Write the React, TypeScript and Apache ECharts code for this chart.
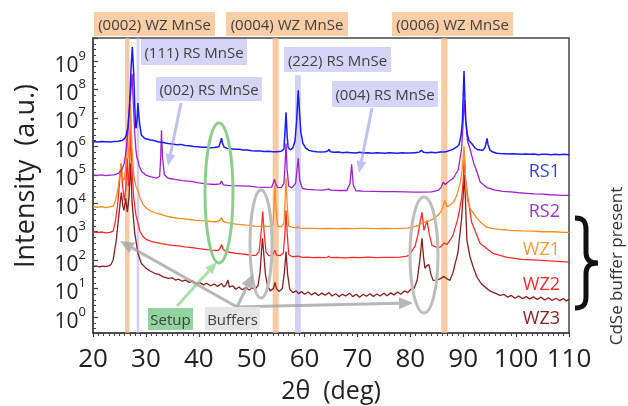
import React, { useEffect, useRef } from 'react';
import * as echarts from 'echarts';

const FONT = '"Open Sans", "Noto Sans", "DejaVu Sans", sans-serif';

// Each point: [2θ in degrees, log10 of intensity in a.u.]
const rs1: [number, number][] = [
  [20, 6.17], [20.8, 6.15], [21.6, 6.17], [22.4, 6.16], [23.2, 6.15], [24, 6.17], [24.8, 6.18], [25.5, 6.21],
  [26.0, 6.28], [26.3, 6.4], [26.6, 6.67], [26.9, 7.38], [27.2, 8.78], [27.43, 9.49], [27.7, 8.57], [27.9, 7.38],
  [28.07, 6.67], [28.19, 6.65], [28.35, 7.0], [28.5, 7.52], [28.65, 7.1], [28.83, 6.8], [29.13, 6.4], [29.8, 6.28],
  [30.7, 6.23], [31.7, 6.2], [32.4, 6.15], [33.2, 6.14], [34.2, 6.1], [35, 6.08], [35.8, 6.06], [36.6, 6.07],
  [37.4, 6.03], [38.2, 6.02], [39, 6.0], [39.8, 5.99], [40.6, 5.97], [41.4, 5.97], [42.2, 5.95], [43, 5.96],
  [43.8, 5.99], [44.1, 6.15], [44.3, 6.29], [44.5, 6.1], [44.8, 5.97], [45.4, 5.93], [46, 5.92], [46.8, 5.9],
  [47.6, 5.9], [48.4, 5.87], [49.2, 5.87], [50, 5.85], [50.8, 5.84], [51.6, 5.84], [52.4, 5.82], [53.2, 5.83],
  [54, 5.81], [54.8, 5.81], [55.6, 5.83], [56.1, 5.9], [56.3, 6.5], [56.5, 7.2], [56.7, 6.4], [56.9, 5.95],
  [57.3, 5.88], [57.8, 5.95], [58.2, 6.2], [58.5, 6.9], [58.8, 7.97], [59.05, 7.2], [59.3, 6.5], [59.7, 6.1],
  [60.2, 5.95], [60.8, 5.86], [61.5, 5.83], [62.3, 5.81], [63.1, 5.8], [63.9, 5.81], [64.4, 5.84], [64.6, 5.89],
  [64.9, 5.81], [65.6, 5.79], [66.4, 5.8], [67.2, 5.78], [68, 5.79], [68.8, 5.78], [69.6, 5.77], [70.4, 5.79],
  [71.2, 5.77], [72, 5.78], [72.8, 5.76], [73.6, 5.78], [74.4, 5.77], [75.2, 5.76], [76, 5.78], [76.8, 5.77],
  [77.6, 5.76], [78.4, 5.78], [79.2, 5.77], [80, 5.77], [80.8, 5.78], [81.6, 5.79], [82.1, 5.86], [82.5, 5.79],
  [83.2, 5.78], [84, 5.79], [84.8, 5.78], [85.6, 5.8], [86.3, 5.8], [86.9, 5.82], [87.5, 5.86], [88.1, 5.9],
  [88.7, 5.97], [89.2, 6.05], [89.6, 6.4], [89.85, 6.9], [90.0, 7.8], [90.15, 8.65], [90.3, 7.8], [90.5, 6.9],
  [90.8, 6.4], [91.1, 6.2], [91.6, 6.1], [92.2, 5.95], [92.8, 5.88], [93.7, 5.86], [94.1, 5.95], [94.3, 6.1],
  [94.5, 6.28], [94.7, 6.05], [95.06, 5.87], [95.6, 5.8], [96.3, 5.76], [96.95, 5.75], [97.8, 5.74], [98.6, 5.73],
  [99.4, 5.74], [100.2, 5.73], [101, 5.72], [101.8, 5.73], [102.6, 5.72], [103.4, 5.73], [104.2, 5.71], [105, 5.72],
  [105.8, 5.72], [106.6, 5.71], [107.4, 5.72], [108.2, 5.71], [109, 5.72], [110, 5.71],
];

const rs2: [number, number][] = [
  [20, 5.0], [20.8, 4.98], [21.6, 5.0], [22.4, 4.97], [23.2, 4.99], [24, 5.0], [24.8, 5.05], [25.4, 5.16],
  [25.9, 5.4], [26.3, 5.9], [26.6, 6.5], [26.9, 7.45], [27.15, 7.9], [27.4, 8.55], [27.6, 7.6], [27.85, 6.6],
  [28.1, 5.9], [28.3, 5.6], [28.5, 5.5], [28.75, 5.3], [29.2, 5.12], [30.1, 4.98], [31, 4.93], [32, 4.88],
  [32.6, 4.95], [32.8, 5.6], [32.95, 6.57], [33.15, 5.6], [33.5, 5.0], [34.2, 4.88], [35.5, 4.84], [37, 4.8],
  [38.5, 4.77], [40, 4.72], [41.5, 4.68], [43, 4.66], [44.0, 4.68], [44.3, 4.78], [44.6, 4.65], [45.5, 4.63],
  [46.5, 4.62], [48, 4.61], [49.5, 4.6], [51, 4.57], [52.5, 4.56], [53.8, 4.57], [54.1, 4.72], [54.3, 4.85],
  [54.5, 4.7], [54.9, 4.56], [55.6, 4.55], [56.1, 4.7], [56.3, 5.3], [56.5, 6.1], [56.7, 5.2], [57.0, 4.6],
  [57.6, 4.54], [58.3, 4.7], [58.8, 5.58], [59.1, 4.8], [59.6, 4.52], [60.5, 4.49], [62, 4.47], [63.5, 4.46],
  [64.6, 4.5], [65, 4.46], [66.5, 4.45], [68, 4.45], [68.6, 4.7], [68.9, 5.37], [69.2, 4.65], [69.7, 4.44],
  [71, 4.43], [73, 4.42], [75, 4.41], [77, 4.41], [79, 4.4], [81, 4.39], [82.5, 4.39], [84, 4.4],
  [85.2, 4.45], [85.8, 4.55], [86.2, 4.74], [86.6, 4.66], [87.2, 4.76], [88.1, 4.88], [89.05, 5.17], [89.7, 5.93],
  [90.0, 6.9], [90.2, 7.64], [90.45, 6.9], [90.8, 6.2], [91.3, 5.9], [92.0, 5.4], [92.6, 5.1], [93.2, 4.75],
  [94.5, 4.55], [96, 4.46], [97.5, 4.42], [99, 4.4], [100.5, 4.37], [102, 4.35], [103.5, 4.33], [105, 4.32],
  [106.5, 4.3], [108, 4.29], [109, 4.28], [110, 4.28],
];

const wz1: [number, number][] = [
  [20, 3.88], [20.8, 3.86], [21.6, 3.88], [22.4, 3.85], [23.2, 3.87], [23.8, 3.9], [24.3, 4.1], [24.8, 4.6],
  [25.05, 5.0], [25.3, 5.4], [25.6, 4.9], [25.9, 4.8], [26.2, 5.3], [26.45, 6.6], [26.7, 5.6], [26.9, 6.0],
  [27.1, 7.5], [27.35, 6.0], [27.7, 5.0], [28.1, 4.6], [28.5, 4.45], [28.9, 4.18], [29.5, 3.95], [30.15, 3.82],
  [31, 3.72], [32, 3.65], [33, 3.6], [34, 3.54], [35.1, 3.5], [36.2, 3.47], [37.3, 3.45], [38.3, 3.43],
  [39.4, 3.4], [40.4, 3.39], [41.5, 3.38], [42.5, 3.36], [43.5, 3.35], [44.0, 3.4], [44.3, 3.5], [44.6, 3.36],
  [45.2, 3.32], [46, 3.3], [47, 3.27], [48, 3.25], [49, 3.23], [49.7, 3.22], [50.5, 3.2], [51.5, 3.19],
  [52.3, 3.2], [53.2, 3.18], [54.0, 3.25], [54.2, 3.8], [54.4, 4.63], [54.6, 3.8], [54.9, 3.2], [55.6, 3.17],
  [56.1, 3.3], [56.3, 4.0], [56.5, 4.9], [56.7, 4.0], [57.0, 3.2], [57.7, 3.15], [58.5, 3.14], [58.8, 3.18],
  [59.1, 3.13], [60, 3.12], [61.5, 3.12], [63, 3.11], [64.5, 3.12], [66, 3.11], [67.5, 3.12], [69, 3.11],
  [70.5, 3.12], [72, 3.12], [73.5, 3.11], [75, 3.12], [76.5, 3.11], [78, 3.12], [79.5, 3.13], [80.5, 3.16],
  [81.5, 3.22], [82.4, 3.33], [83.3, 3.36], [84.3, 3.45], [85.2, 3.58], [85.8, 3.7], [86.2, 3.9], [86.55, 4.1],
  [86.9, 3.88], [87.4, 3.92], [88.2, 4.05], [88.8, 4.28], [89.4, 4.7], [89.8, 5.2], [90.15, 6.0], [90.45, 4.8],
  [90.8, 4.1], [91.3, 3.82], [92.6, 3.47], [93.5, 3.3], [94.5, 3.15], [96, 3.1], [98.8, 3.05], [101, 3.03],
  [103, 3.02], [105, 3.0], [107, 3.0], [109, 2.98], [110, 2.98],
];

const wz2: [number, number][] = [
  [20, 2.99], [20.8, 2.97], [21.6, 2.99], [22.4, 2.96], [23.2, 2.98], [23.8, 3.02], [24.2, 3.33], [24.7, 4.0],
  [25.0, 4.7], [25.3, 5.4], [25.6, 4.6], [25.9, 4.1], [26.2, 4.5], [26.45, 5.6], [26.7, 4.6], [26.9, 5.2],
  [27.1, 6.6], [27.35, 5.3], [27.7, 4.2], [28.1, 3.6], [28.5, 3.3], [28.9, 3.0], [29.5, 2.82], [30.15, 2.72],
  [31, 2.66], [32, 2.62], [33, 2.58], [34, 2.55], [35.1, 2.52], [36.2, 2.5], [37.3, 2.47], [38.3, 2.45],
  [39.4, 2.42], [40.4, 2.4], [41.5, 2.37], [42.5, 2.35], [43.6, 2.34], [44.0, 2.4], [44.3, 2.55], [44.6, 2.38],
  [45.2, 2.3], [46, 2.27], [47, 2.24], [48, 2.22], [49, 2.2], [50, 2.17], [50.8, 2.17], [51.4, 2.3],
  [51.8, 3.0], [52.09, 3.71], [52.35, 3.0], [52.7, 2.3], [53.2, 2.16], [54.0, 2.18], [54.4, 2.35], [54.7, 2.18],
  [55.4, 2.16], [56.0, 2.25], [56.3, 3.0], [56.5, 3.75], [56.7, 3.0], [57.0, 2.2], [57.7, 2.12], [58.8, 2.14],
  [59.6, 2.1], [60.5, 2.11], [61.5, 2.09], [62.5, 2.1], [63.5, 2.09], [64.3, 2.1], [64.6, 2.14], [64.9, 2.09],
  [66, 2.1], [67.5, 2.08], [69, 2.1], [70.5, 2.09], [72, 2.11], [73.5, 2.09], [75, 2.1], [76.5, 2.1],
  [78, 2.11], [79.2, 2.13], [79.9, 2.2], [80.9, 2.5], [81.45, 2.9], [81.9, 3.4], [82.2, 3.68], [82.58, 3.05],
  [83.15, 3.4], [83.6, 2.9], [84.1, 2.52], [85, 2.45], [85.6, 2.45], [86.36, 2.6], [86.9, 2.55], [87.5, 2.7],
  [88.07, 2.87], [89.0, 3.47], [89.7, 4.17], [90.0, 4.8], [90.2, 5.6], [90.45, 4.8], [90.9, 4.17], [91.6, 3.33],
  [93.2, 2.59], [95.6, 2.24], [98.3, 2.1], [101, 2.03], [104, 2.0], [107, 1.97], [110, 1.93],
];

const wz3: [number, number][] = [
  [20, 1.78], [20.6, 1.8], [21.2, 1.76], [21.8, 1.79], [22.4, 1.77], [23, 1.8], [23.4, 1.85], [23.8, 2.0],
  [24.4, 2.7], [24.9, 3.6], [25.35, 4.38], [25.65, 3.9], [25.86, 3.75], [26.18, 4.17], [26.5, 3.7], [26.8, 4.2],
  [27.1, 5.4], [27.4, 4.0], [27.9, 2.94], [28.5, 2.24], [29.13, 1.89], [30, 1.72], [30.8, 1.62], [31.67, 1.54],
  [32.4, 1.5], [33.2, 1.42], [34.2, 1.36], [35, 1.38], [35.6, 1.3], [36.2, 1.33], [36.9, 1.26], [37.5, 1.3],
  [38.2, 1.22], [38.8, 1.27], [39.5, 1.18], [40.2, 1.21], [40.9, 1.13], [41.5, 1.19], [42.2, 1.1], [42.9, 1.16],
  [43.5, 1.08], [44.3, 1.18], [44.7, 1.06], [45.1, 1.12], [45.5, 1.3], [45.8, 1.05], [46.4, 1.1], [47.0, 0.98],
  [47.6, 1.06], [48.2, 0.96], [48.9, 1.04], [49.5, 0.95], [50.1, 1.02], [50.7, 0.99], [51.2, 1.1], [51.6, 1.6],
  [51.85, 2.3], [52.05, 2.77], [52.3, 2.2], [52.6, 1.5], [53.0, 1.1], [53.5, 0.92], [54.1, 1.0], [54.4, 1.22],
  [54.7, 1.0], [55.2, 0.9], [55.8, 1.0], [56.2, 1.6], [56.5, 2.3], [56.8, 1.5], [57.2, 0.98], [57.8, 0.86],
  [58.4, 0.92], [58.9, 0.82], [59.4, 0.9], [60, 0.8], [60.7, 0.88], [61.3, 0.78], [62, 0.86], [62.6, 0.76],
  [63.3, 0.84], [63.9, 0.77], [64.6, 0.86], [65.2, 0.74], [65.9, 0.82], [66.5, 0.72], [67.2, 0.8], [67.8, 0.74],
  [68.5, 0.84], [69.1, 0.72], [69.8, 0.8], [70.4, 0.7], [71.1, 0.8], [71.7, 0.73], [72.4, 0.82], [73, 0.72],
  [73.7, 0.81], [74.3, 0.74], [75, 0.84], [75.6, 0.75], [76.3, 0.85], [76.9, 0.78], [77.6, 0.88], [78.2, 0.8],
  [78.9, 0.92], [79.5, 0.86], [80.1, 0.98], [80.7, 1.0], [81.3, 1.3], [81.8, 2.0], [82.2, 2.77], [82.5, 2.1],
  [82.77, 1.71], [83.1, 1.8], [83.5, 1.85], [83.9, 1.5], [84.3, 1.29], [85, 1.3], [85.7, 1.35], [86.36, 1.43],
  [86.9, 1.35], [87.5, 1.29], [88.07, 1.57], [89.0, 2.27], [89.7, 3.47], [90.0, 4.3], [90.2, 5.0], [90.4, 4.2],
  [90.7, 2.7], [91.3, 2.1], [92.0, 1.7], [92.6, 1.4], [93.5, 1.15], [94.5, 1.0], [95.2, 0.9], [96, 0.84],
  [96.95, 0.76], [97.7, 0.8], [98.4, 0.7], [99.1, 0.76], [99.8, 0.66], [100.5, 0.74], [101.2, 0.65], [101.9, 0.72],
  [102.6, 0.64], [103.3, 0.71], [104, 0.62], [104.7, 0.7], [105.4, 0.6], [106.1, 0.68], [106.8, 0.58], [107.5, 0.66],
  [108.2, 0.58], [108.9, 0.65], [109.5, 0.57], [110, 0.62],
];

const seriesNames = ['WZ3', 'WZ2', 'WZ1', 'RS2', 'RS1'];
const seriesData = [wz3, wz2, wz1, rs2, rs1];
const seriesColors = ['#8b1e1e', '#ff2b2b', '#ff8a1f', '#a21fd0', '#1a1aff'];

// reference bands (2θ ranges)
const wzBands: [number, number][] = [[26.05, 26.9], [53.97, 55.1], [85.85, 87.0]];
const rsBands: [number, number][] = [[28.25, 28.75], [58.2, 59.3]];
const rsBandTop = [null, 8.5];

const X_MIN = 20;
const X_MAX = 110;
const X_STEP = 10;
const Y_MIN_EXP = -0.56;
const Y_MAX_EXP = 9.81;

const braceD = 'M0,2 C8,2 11,5 11,14 L11,36 C11,44 15,47 23,47 C15,47 11,50 11,58 L11,80 C11,89 8,92 0,92';
echarts.graphic.registerShape('brace', echarts.graphic.extendPath(braceD, {}) as any);

const ORANGE_BOX = '#f9cda6';
const BLUE_BOX = '#d5d5f7';
const LABEL_TXT = '#404040';

function boxWithText(x: number, y: number, w: number, h: number, fill: string, text: string) {
  return [
    { type: 'rect', z: 100, shape: { x, y, width: w, height: h }, style: { fill } },
    {
      type: 'text', z: 101, x: x + w / 2, y: y + h / 2,
      style: {
        text, fill: LABEL_TXT, font: `15px ${FONT}`,
        align: 'center', verticalAlign: 'middle', textAlign: 'center', textVerticalAlign: 'middle',
      },
    },
  ];
}

function arrow(x1: number, y1: number, bx: number, by: number, head: number[][], color: string, width: number) {
  return [
    { type: 'line', z: 99, shape: { x1, y1, x2: bx, y2: by }, style: { stroke: color, lineWidth: width } },
    { type: 'polygon', z: 99, shape: { points: head }, style: { fill: color } },
  ];
}

function label(text: string, x: number, y: number, color: string, size: number, rotation = 0, align = 'right') {
  return {
    type: 'text', z: 101, x, y, rotation,
    style: {
      text, fill: color, font: `${size}px ${FONT}`,
      align, verticalAlign: 'middle', textAlign: align, textVerticalAlign: 'middle',
    },
  };
}

export default function App() {
  const ref = useRef<HTMLDivElement>(null);
  useEffect(() => {
    if (!ref.current) return;
    const chart = echarts.init(ref.current, undefined, { renderer: 'svg' });

    const lineSeries = seriesData.map((d, i) => ({
      type: 'line',
      name: seriesNames[i],
      data: d,
      showSymbol: false,
      symbol: 'none',
      smooth: false,
      z: 2 + i,
      lineStyle: { color: seriesColors[i], width: i === 4 ? 1.5 : 1.3 },
      emphasis: { disabled: true },
    }));

    const bandSeries = {
      type: 'line',
      data: [],
      silent: true,
      z: 20,
      markArea: {
        silent: true,
        data: [
          ...wzBands.map(([a, b]) => [
            { xAxis: a, itemStyle: { color: 'rgba(246,180,125,0.72)' } },
            { xAxis: b },
          ]),
          ...rsBands.map(([a, b], i) => [
            rsBandTop[i] == null
              ? { xAxis: a, itemStyle: { color: 'rgba(190,190,246,0.7)' } }
              : { xAxis: a, yAxis: rsBandTop[i], itemStyle: { color: 'rgba(190,190,246,0.7)' } },
            rsBandTop[i] == null ? { xAxis: b } : { xAxis: b, yAxis: Y_MIN_EXP },
          ]),
        ],
      },
    };

    const graphics: any[] = [
      ...boxWithText(94, 12, 121, 24, ORANGE_BOX, '(0002) WZ MnSe'),
      ...boxWithText(226, 12, 122, 24, ORANGE_BOX, '(0004) WZ MnSe'),
      ...boxWithText(392, 12, 121, 24, ORANGE_BOX, '(0006) WZ MnSe'),
      ...boxWithText(141, 39, 106, 26, BLUE_BOX, '(111) RS MnSe'),
      ...boxWithText(156, 77, 106, 24, BLUE_BOX, '(002) RS MnSe'),
      ...boxWithText(284, 47, 107, 25, BLUE_BOX, '(222) RS MnSe'),
      ...boxWithText(332, 81, 106, 26, BLUE_BOX, '(004) RS MnSe'),
      ...boxWithText(148, 308, 45, 22, '#93d3a0', 'Setup'),
      ...boxWithText(205, 307, 55, 23, '#e6e6e6', 'Buffers'),
      // blue arrows
      ...arrow(181, 103, 170.4, 154.2, [[168, 166], [175.3, 155.2], [165.5, 153.2]], 'rgba(150,150,235,0.6)', 3),
      ...arrow(372, 108, 361.4, 161.2, [[359, 173], [366.25, 162.2], [356.45, 160.3]], 'rgba(150,150,235,0.6)', 3),
      // green arrow
      ...arrow(177, 306, 208.9, 270.9, [[217, 262], [212.6, 274.2], [205.2, 267.5]], 'rgba(140,215,140,0.75)', 3),
      // gray arrows
      ...arrow(237, 307, 132.2, 247.9, [[120, 241], [135.15, 242.7], [129.25, 253.1]], 'rgba(165,165,165,0.8)', 3),
      ...arrow(237, 307, 246.9, 286.6, [[253, 274], [252.3, 289.2], [241.5, 284]], 'rgba(165,165,165,0.8)', 3),
      ...arrow(237, 307, 399, 303.3, [[413, 303], [399.1, 309.3], [398.9, 297.3]], 'rgba(165,165,165,0.8)', 3),
      // ellipses
      { type: 'ellipse', z: 98, shape: { cx: 219, cy: 193, rx: 14, ry: 70 }, style: { fill: 'none', stroke: '#8ccf8c', lineWidth: 3 } },
      { type: 'ellipse', z: 98, shape: { cx: 261, cy: 244, rx: 11, ry: 54 }, style: { fill: 'none', stroke: '#bdbdbd', lineWidth: 3 } },
      { type: 'ellipse', z: 98, shape: { cx: 424, cy: 255, rx: 14, ry: 58 }, style: { fill: 'none', stroke: '#bdbdbd', lineWidth: 3 } },
      // sample labels
      label('RS1', 560, 170, '#3344dd', 18),
      label('RS2', 560, 210, '#a030d0', 18),
      label('WZ1', 560, 248, '#ff9a3a', 18),
      label('WZ2', 560, 283, '#ff2a2a', 18),
      label('WZ3', 560, 317, '#8a2020', 18),
      // axis title
      label('Intensity  (a.u.)', 23, 176, '#222', 27, Math.PI / 2, 'center'),
      // brace and note
      { type: 'brace', z: 101, x: 575, y: 216, scaleX: 1, scaleY: 1, style: { fill: 'none', stroke: '#111', lineWidth: 5 } },
      label('CdSe buffer present', 615, 266, '#333', 17, Math.PI / 2, 'center'),
    ];

    chart.setOption({
      animation: false,
      grid: { left: 93, right: 59, top: 38, bottom: 73, show: true, borderColor: '#444', borderWidth: 1.5, backgroundColor: 'transparent' },
      xAxis: {
        type: 'value', min: X_MIN, max: X_MAX, interval: X_STEP,
        name: '2θ  (deg)', nameLocation: 'middle', nameGap: 43,
        nameTextStyle: { fontSize: 25, fontFamily: FONT, color: '#222' },
        axisLine: { show: true, onZero: false, lineStyle: { color: '#444', width: 1.5 } },
        axisTick: { show: true, length: 4, lineStyle: { color: '#444', width: 1.2 } },
        minorTick: { show: true, splitNumber: 10, length: 3, lineStyle: { color: '#444', width: 1 } },
        axisLabel: { fontSize: 26, fontFamily: FONT, color: '#222', margin: 11 },
        splitLine: { show: false },
      },
      yAxis: {
        type: 'value', min: Y_MIN_EXP, max: Y_MAX_EXP, minInterval: 1, maxInterval: 1,
        axisLine: { show: true, onZero: false, lineStyle: { color: '#444', width: 1.5 } },
        axisTick: { show: true, inside: true, length: 5, lineStyle: { color: '#444', width: 1.2 } },
        minorTick: { show: true, splitNumber: 5, length: 3, lineStyle: { color: '#444', width: 1 } },
        splitLine: { show: false },
        axisLabel: {
          showMinLabel: false, showMaxLabel: false, margin: 7,
          formatter: (v: number) => `{b|10}{s|${Math.round(v)}}`,
          rich: {
            b: { fontSize: 21, fontFamily: FONT, color: '#222', lineHeight: 26, verticalAlign: 'bottom' },
            s: { fontSize: 13, fontFamily: FONT, color: '#222', lineHeight: 14, verticalAlign: 'top' },
          },
        },
      },
      series: [...lineSeries, bandSeries],
      graphic: graphics,
    });
    return () => chart.dispose();
  }, []);
  return <div ref={ref} style={{ position: 'fixed', left: 0, top: 0, width: 628, height: 406 }} />;
}
